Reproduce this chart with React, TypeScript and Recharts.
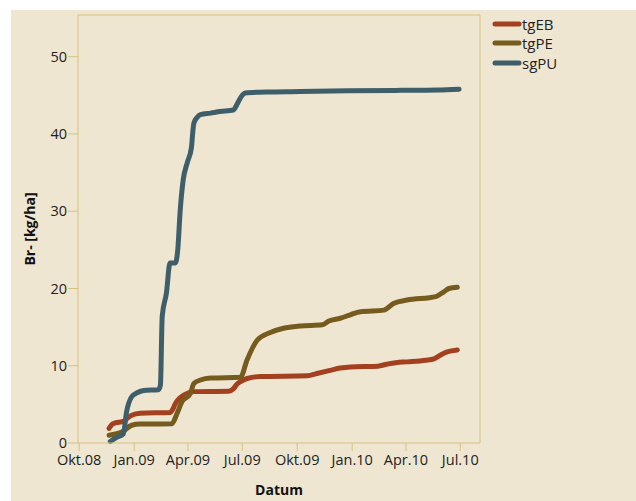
import { LineChart, Line, XAxis, YAxis, Legend, ReferenceLine } from "recharts";

// days counted from 1 Oct 2008
const ebDays = [50, 55, 60, 74, 82, 88, 102, 152, 157, 161, 168, 175, 183, 192, 250, 258, 264, 270, 281, 303, 382, 398, 420, 437, 454, 500, 515, 530, 549, 580, 594, 605, 616, 633];
const ebValues = [1.9, 2.4, 2.6, 2.8, 3.3, 3.6, 3.85, 3.95, 4.4, 5.1, 5.8, 6.2, 6.5, 6.65, 6.7, 7.0, 7.6, 7.95, 8.35, 8.6, 8.7, 9.0, 9.4, 9.7, 9.85, 9.95, 10.2, 10.4, 10.5, 10.7, 10.9, 11.4, 11.8, 12.05];

const peDays = [50, 72, 88, 102, 155, 164, 172, 186, 192, 203, 220, 270, 281, 298, 320, 342, 370, 407, 418, 437, 454, 471, 510, 527, 549, 597, 611, 619, 633];
const peValues = [1.0, 1.45, 2.3, 2.45, 2.5, 3.85, 5.35, 6.4, 7.7, 8.15, 8.4, 8.5, 10.75, 13.3, 14.3, 14.85, 15.15, 15.3, 15.8, 16.15, 16.6, 17.0, 17.2, 18.1, 18.5, 18.95, 19.6, 20.0, 20.15];

const puDays = [52, 62, 74, 79, 88, 97, 108, 133, 136, 139, 146, 152, 161, 165, 169, 174, 181, 188, 190, 192, 198, 203, 220, 236, 258, 264, 271, 278, 300, 370, 450, 540, 600, 636];
const puValues = [0.2, 0.7, 1.2, 3.9, 6.0, 6.5, 6.8, 6.9, 7.5, 16.4, 19.4, 23.3, 23.3, 25, 30, 34, 36.3, 38.3, 40.1, 41.4, 42.2, 42.5, 42.7, 42.9, 43.1, 43.8, 44.8, 45.3, 45.4, 45.5, 45.6, 45.65, 45.7, 45.8];

const seriesNames = ["tgEB", "tgPE", "sgPU"];
const tickDays = [0, 92, 182, 273, 365, 457, 547, 638];
const tickLabels = ["Okt.08", "Jan.09", "Apr.09", "Jul.09", "Okt.09", "Jan.10", "Apr.10", "Jul.10"];
const yTicks = [0, 10, 20, 30, 40, 50];

const toData = (days: number[], vals: number[]) => days.map((d, i) => ({ day: d, v: vals[i] }));

const axisColor = "#d6c27c";
const X_MAX = 671;
const Y_MAX = 55.4;

const renderLegend = (props: any) => {
    const items = [...props.payload].sort((a: any, b: any) => seriesNames.indexOf(a.value) - seriesNames.indexOf(b.value));
    return (
        <div>
            {items.map((p: any) => (
                <div key={p.value} style={{ display: "flex", alignItems: "center", height: 19.5 }}>
                    <svg width={30} height={8}>
                        <line x1={3} y1={4} x2={27} y2={4} stroke={p.color} strokeWidth={5} strokeLinecap="round" />
                    </svg>
                    <span style={{ fontSize: 15, color: "#222" }}>{p.value}</span>
                </div>
            ))}
        </div>
    );
};

export default function App() {
    return (
        <div style={{ position: "fixed", left: 11, top: 10, right: 0, bottom: 0, background: "#efe6d1", fontFamily: "'Open Sans', sans-serif" }}>
            <LineChart width={625} height={491} margin={{ top: 5, right: 156, bottom: 3, left: 7 }}>
                <XAxis
                    dataKey="day"
                    type="number"
                    domain={[-2, X_MAX]}
                    ticks={tickDays}
                    tickFormatter={(v) => tickLabels[tickDays.indexOf(v)]}
                    stroke={axisColor}
                    tick={{ fill: "#222", fontSize: 14.5 }}
                    tickSize={8}
                    tickMargin={4}
                    height={55}
                    allowDuplicatedCategory={false}
                    label={{ value: "Datum", position: "insideBottom", offset: 3, fill: "#111", fontSize: 14, fontWeight: "bold" }}
                />
                <YAxis
                    type="number"
                    domain={[0, Y_MAX]}
                    ticks={yTicks}
                    stroke={axisColor}
                    tick={{ fill: "#222", fontSize: 14.5 }}
                    tickSize={10}
                    tickMargin={1}
                    width={60}
                    label={{ value: "Br- [kg/ha]", angle: -90, position: "center", dx: -18, fill: "#111", fontSize: 14, fontWeight: "bold" }}
                />
                <ReferenceLine y={Y_MAX} stroke={axisColor} />
                <ReferenceLine x={X_MAX} stroke={axisColor} />
                <Legend
                    layout="vertical"
                    align="center"
                    verticalAlign="middle"
                    content={renderLegend}
                    wrapperStyle={{ left: 481, top: 4, width: 100 }}
                />
                <Line data={toData(ebDays, ebValues)} dataKey="v" name="tgEB" type="monotone" stroke="#a3401f" strokeWidth={5} strokeLinecap="round" strokeLinejoin="round" dot={false} isAnimationActive={false} />
                <Line data={toData(peDays, peValues)} dataKey="v" name="tgPE" type="monotone" stroke="#765b1f" strokeWidth={5} strokeLinecap="round" strokeLinejoin="round" dot={false} isAnimationActive={false} />
                <Line data={toData(puDays, puValues)} dataKey="v" name="sgPU" type="monotone" stroke="#3e5f6a" strokeWidth={5} strokeLinecap="round" strokeLinejoin="round" dot={false} isAnimationActive={false} />
            </LineChart>
        </div>
    );
}
